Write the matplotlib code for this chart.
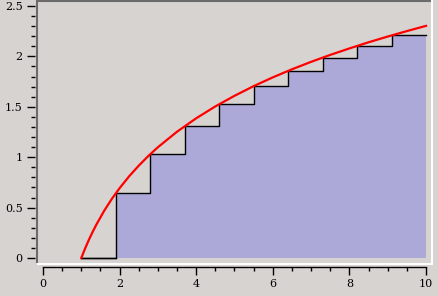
import matplotlib
matplotlib.use("Agg")
import matplotlib.pyplot as plt
from matplotlib.lines import Line2D
from matplotlib.ticker import MultipleLocator

# Step edges (left endpoints) and heights of the lower-sum rectangles
step_x = [1.0, 1.9, 2.8, 3.7, 4.6, 5.5, 6.4, 7.3, 8.2, 9.1, 10.0]
step_h = [0.0, 0.642, 1.030, 1.308, 1.526, 1.705, 1.856, 1.988, 2.104, 2.208, 2.208]

# Red curve
curve_x = [1.0, 1.1, 1.2, 1.3, 1.4, 1.6, 1.8, 2.0, 2.25, 2.5, 2.75, 3.0, 3.5, 4.0,
           4.5, 5.0, 5.5, 6.0, 6.5, 7.0, 7.5, 8.0, 8.5, 9.0, 9.5, 10.0]
curve_y = [0.0, 0.095, 0.182, 0.262, 0.336, 0.470, 0.588, 0.693, 0.811, 0.916,
           1.012, 1.099, 1.253, 1.386, 1.504, 1.609, 1.705, 1.792, 1.872, 1.946,
           2.015, 2.079, 2.140, 2.197, 2.251, 2.303]

xticks = [0, 2, 4, 6, 8, 10]
yticks = [0, 0.5, 1, 1.5, 2, 2.5]
ytick_labels = ["0", "0.5", "1", "1.5", "2", "2.5"]

BG = "#d6d3d0"
FILL = "#aca8d8"

W, H = 439, 296
fig = plt.figure(figsize=(W / 100, H / 100), dpi=100, facecolor=BG)
# axes box in pixels: x 38..432, y 1..263
L, R, T, B = 38, 432, 1, 263
ax = fig.add_axes([L / W, 1 - B / H, (R - L) / W, (B - T) / H])
ax.set_facecolor(BG)

# data mapping: x=0 -> 43px, x=10 -> 426px ; y=0 -> 258px, y=2.5 -> 6px
pxu = (426 - 43) / 10
pyu = (258 - 6) / 2.5
ax.set_xlim(0 - (43 - L) / pxu, 10 + (R - 426) / pxu)
ax.set_ylim(0 - (B - 258) / pyu, 2.5 + (6 - T) / pyu)

ax.fill_between(step_x, step_h, 0, step="post", color=FILL, lw=0)
ax.step(step_x, step_h, where="post", color="black", lw=1.0)
ax.plot([step_x[0], step_x[1]], [0, 0], color="black", lw=1.0)
ax.plot(curve_x, curve_y, color="#ff0000", lw=1.6)

for s in ["top", "right"]:
    ax.spines[s].set_visible(False)
ax.spines["left"].set_visible(False)
ax.spines["left"].set_position(("outward", 2.5))
ax.spines["bottom"].set_position(("outward", 3.0))
ax.spines["bottom"].set_bounds(0, 10)
ax.spines["bottom"].set_linewidth(1.0)

ax.set_xticks(xticks)
ax.set_xticklabels([str(v) for v in xticks])
ax.set_yticks(yticks)
ax.set_yticklabels(ytick_labels)
ax.xaxis.set_minor_locator(MultipleLocator(0.5))
ax.yaxis.set_minor_locator(MultipleLocator(0.1))
ax.tick_params(axis="both", which="major", length=5.5, width=1.0, color="black",
               labelsize=8, pad=3)
ax.tick_params(axis="both", which="minor", length=2.8, width=1.0, color="black")
for lab in ax.get_xticklabels() + ax.get_yticklabels():
    lab.set_fontfamily("DejaVu Serif")

# sunken frame
def fl(x0, y0, x1, y1, c):
    fig.add_artist(Line2D([x0 / W, x1 / W], [1 - y0 / H, 1 - y1 / H],
                          color=c, lw=1.5, transform=fig.transFigure,
                          solid_capstyle="butt"))

fl(L - 0.5, 0.5, R, 0.5, "#6b6b6b")
fl(L - 0.5, 0, L - 0.5, B, "#6b6b6b")
fl(L - 1, B + 0.5, R + 1, B + 0.5, "#ffffff")
fl(R + 0.5, 0, R + 0.5, B + 1, "#ffffff")

fig.savefig("out.png", dpi=100, facecolor=BG)
